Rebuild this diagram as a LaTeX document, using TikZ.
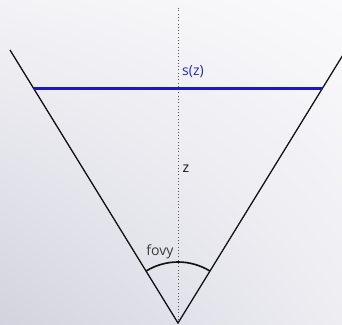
\documentclass[tikz,border=0pt]{standalone}
\usepackage{fontspec}
\setmainfont{Open Sans}
\usetikzlibrary{calc,shadings}
\definecolor{Ray}{HTML}{111111}
\definecolor{Plane}{HTML}{1A1AC4}
\definecolor{PlaneText}{HTML}{2B2BA0}
\definecolor{Axis}{HTML}{555555}
\definecolor{BgTL}{HTML}{F3F3F6}
\definecolor{BgTR}{HTML}{FAFAFC}
\definecolor{BgBL}{HTML}{D3D3DF}
\definecolor{BgBR}{HTML}{EDEDF2}

\begin{document}
\begin{tikzpicture}[x=0.03cm,y=0.03cm]
        \useasboundingbox (0,0) rectangle (342,324);
        \clip (0,0) rectangle (342,324);
        \shade[upper left=BgTL,upper right=BgTR,lower left=BgBL,lower right=BgBR]
          (0,0) rectangle (342,324);

        \coordinate (eye) at (178,1);
        \coordinate (leftend) at (10,274);
        \coordinate (rightend) at (346,274);
        \coordinate (axistop) at (178,316);

        % view axis
        \draw[Axis,dotted,thick] (eye)--(axistop);

        % frustum edges
        \draw[Ray,line width=1.1pt] (leftend)--(eye)--(rightend);

        % plane at distance z
        \coordinate (planeL) at ($(eye)!0.859!(leftend)$);
        \coordinate (planeR) at ($(eye)!0.859!(rightend)$);
        \draw[Plane,line width=2.4pt] (planeL)--(planeR);

        % field of view angle
        \draw[Ray,line width=1.4pt] ($(eye)+(58.4:61)$)
          arc[start angle=58.4,end angle=121.6,radius=61];

        \node[PlaneText,font=\large] (sz) at (193,252) {s(z)};
        \node[Ray,font=\large] (zlabel) at (186,155) {z};
        \node[Axis!70!black,font=\large] (fovy) at (160,72) {fovy};
      \end{tikzpicture}
\end{document}
